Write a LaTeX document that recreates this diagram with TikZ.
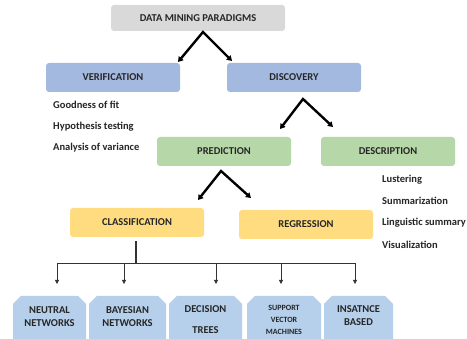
\documentclass[tikz,border=0pt]{standalone}
\usepackage{fontspec}
\setmainfont{Carlito}
\usetikzlibrary{positioning, arrows.meta, calc}
\tikzstyle{chart} = [x = 1pt, y = -1pt, every node/.style={font=\bfseries\fontsize{10.5}{12}\selectfont}]
\definecolor{grayBox}{RGB}{217,217,217}
\definecolor{blueBox}{RGB}{164,185,224}
\definecolor{greenBox}{RGB}{182,215,168}
\definecolor{yellowBox}{RGB}{255,220,128}
\definecolor{leafBox}{RGB}{182,207,234}
\definecolor{textColor}{RGB}{38,38,38}
\tikzstyle{boxStyle} = [rounded corners = 3pt, minimum width = 134pt, minimum height = 29pt, inner sep = 0pt, text=textColor]
\tikzstyle{itemText} = [anchor = west, inner sep = 0pt, text=textColor]
\tikzstyle{forkArrow} = [line width = 2.4pt, {Triangle[length=5pt,width=6pt]}-{Triangle[length=5pt,width=6pt]}]
\tikzstyle{branchLine} = [color=black!80, line width = .8pt]
\tikzstyle{leafArrow} = [branchLine, -{Triangle[length=4pt,width=4pt]}]
\tikzstyle{leafFill} = [fill=leafBox]
\tikzstyle{leafText} = [align=center, inner sep = 0pt, text=textColor]
\newcommand{\smallLeaf}{\fontsize{8}{11}\selectfont}
\newcommand{\forkArrows}[4]{
  \coordinate (#1) at (#2);
  \draw [forkArrow] ($(#1) + (#3)$) -- (#1) -- ($(#1) + (#4)$);
}
\newcommand{\leafBoxShape}[5]{
  \fill [leafFill] (#1, 340) -- (#1, 304) -- (#1 + 8, 296) -- (#2 - 8, 296) -- (#2, 304) -- (#2, 340) -- cycle;
  \node [leafText] (#3) at ({(#1 + #2) / 2}, #4) {#5};
}

\begin{document}
\begin{tikzpicture}[chart]
  \clip (0,0) rectangle (467,339);
  \fill [white] (0,0) rectangle (467,339);

  % boxes
  \node [boxStyle, fill=grayBox, minimum width = 174pt, minimum height = 26pt] (paradigms) at (198,18) {DATA MINING PARADIGMS};
  \node [boxStyle, fill=blueBox] (verification) at (113,77.5) {VERIFICATION};
  \node [boxStyle, fill=blueBox] (discovery) at (294,77.5) {DISCOVERY};
  \node [boxStyle, fill=greenBox] (prediction) at (224,151.5) {PREDICTION};
  \node [boxStyle, fill=greenBox] (description) at (388,151.5) {DESCRIPTION};
  \node [boxStyle, fill=yellowBox] (classification) at (137,222.5) {CLASSIFICATION};
  \node [boxStyle, fill=yellowBox] (regression) at (306,224.5) {REGRESSION};

  % forks
  \forkArrows{paradigmsFork}{203,32}{-25,30}{29,29}
  \forkArrows{discoveryFork}{303,99}{-23,30}{30,28}
  \forkArrows{predictionFork}{221,171}{-23,29}{30,27}

  % verification items
  \node [itemText] (goodness) at (53,105) {Goodness of fit};
  \node [itemText] (hypothesis) at (53,126.5) {Hypothesis testing};
  \node [itemText] (variance) at (53,148) {Analysis of variance};

  % description items
  \node [itemText] (lustering) at (382,180) {Lustering};
  \node [itemText] (summarization) at (382,201) {Summarization};
  \node [itemText] (linguistic) at (382,223) {Linguistic summary};
  \node [itemText] (visualization) at (382,245) {Visualization};

  % leaves
  \leafBoxShape{13}{86}{neutral}{317}{NEUTRAL\\[1pt]NETWORKS}
  \leafBoxShape{89}{166}{bayesian}{317}{BAYESIAN\\[1pt]NETWORKS}
  \leafBoxShape{169}{242}{decision}{320}{DECISION\\[9pt]TREES}
  \leafBoxShape{247}{321}{support}{320}{\smallLeaf SUPPORT\\\smallLeaf VECTOR\\\smallLeaf MACHINES}
  \leafBoxShape{324}{393}{instance}{316}{INSATNCE\\[1pt]BASED}

  % branches
  \coordinate (hub) at (136,263);
  \draw [branchLine, line width = 1.3pt] ([yshift=-4pt]classification.south -| hub) -- (hub);
  \draw [branchLine] (57,263) -- (355,263);
  \foreach \tipX/\leaf in {57/neutral, 124/bayesian, 216/decision, 281/support, 355/instance} {
    \coordinate (\leaf Tip) at (\tipX,284);
    \draw [leafArrow] (\tipX,263) -- (\leaf Tip);
  }
\end{tikzpicture}
\end{document}
